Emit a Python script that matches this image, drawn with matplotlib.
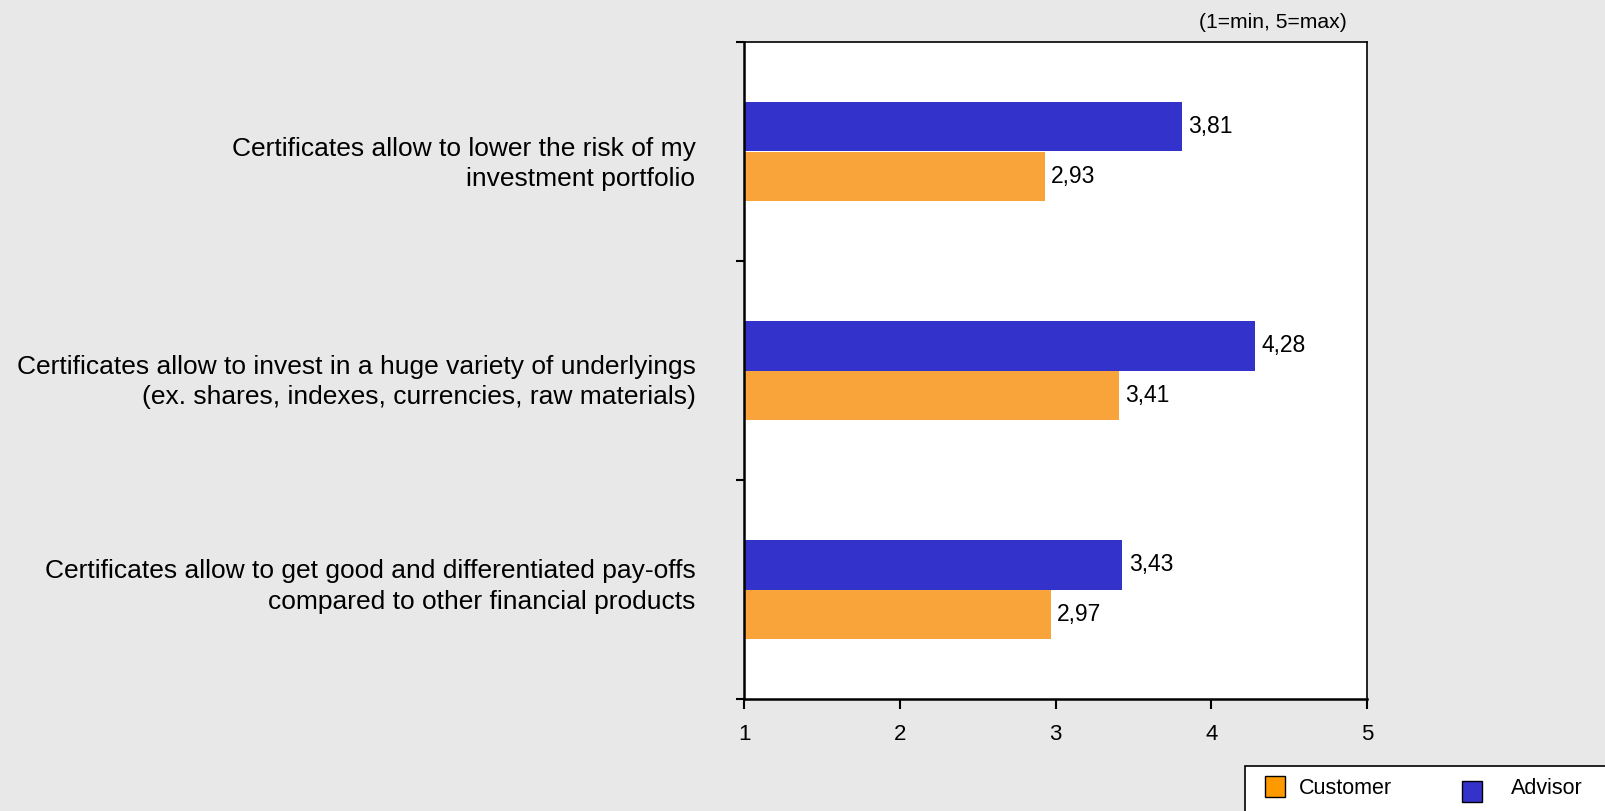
import matplotlib.pyplot as plt
from matplotlib.patches import Rectangle

# -------------------------
# DATA
# -------------------------
statements = [
    "Certificates allow to lower the risk of my\ninvestment portfolio",
    "Certificates allow to invest in a huge variety of underlyings\n(ex. shares, indexes, currencies, raw materials)",
    "Certificates allow to get good and differentiated pay-offs\ncompared to other financial products",
]
customer = [2.93, 3.41, 2.97]
advisor = [3.81, 4.28, 3.43]
series_names = ["Customer", "Advisor"]
x_ticks = [1, 2, 3, 4, 5]

# small vertical nudge of each category label (in category units)
label_shift = [0.031, 0.027, -0.039]

BLUE = "#3333cc"
ORANGE = "#f9a33b"
BG = "#e8e8e8"

plt.rcParams["font.family"] = ["Liberation Sans", "DejaVu Sans"]

# -------------------------
# PLOT
# -------------------------
W, H = 1605, 811
fig = plt.figure(figsize=(W / 100, H / 100), dpi=100, facecolor=BG)
ax = fig.add_axes([744 / W, 112 / H, 623 / W, 657 / H])
ax.set_facecolor("white")

bar_h = 0.224
pos = list(range(len(statements)))
adv_pos = [p - bar_h / 2 for p in pos]
cus_pos = [p + bar_h / 2 for p in pos]

ax.barh(adv_pos, advisor, height=bar_h, color=BLUE, zorder=2)
ax.barh(cus_pos, customer, height=bar_h, color=ORANGE, zorder=2)

def fmt(v):
    return f"{v:.2f}".replace(".", ",")

for y, v in zip(adv_pos, advisor):
    ax.text(v + 0.04, y, fmt(v), va="center", ha="left", fontsize=16.5)
for y, v in zip(cus_pos, customer):
    ax.text(v + 0.04, y, fmt(v), va="center", ha="left", fontsize=16.5)

ax.set_xlim(1, 5)
ax.set_ylim(len(statements) - 0.5, -0.5)
ax.set_xticks(x_ticks)
ax.set_xticklabels([str(t) for t in x_ticks], fontsize=16)

# category labels on major ticks, tick marks on category boundaries
ax.set_yticks([p + s for p, s in zip(pos, label_shift)])
ax.set_yticklabels(statements, fontsize=19, linespacing=1.32)
ax.set_yticks([p - 0.5 for p in range(len(statements) + 1)], minor=True)
ax.tick_params(axis="y", which="major", length=0, pad=35)
ax.tick_params(axis="y", which="minor", length=6, width=1.5, direction="out")
ax.tick_params(axis="x", length=7, width=1.5, direction="out", pad=11)

for side in ["left", "bottom"]:
    ax.spines[side].set_linewidth(1.8)
for side in ["top", "right"]:
    ax.spines[side].set_linewidth(1.2)

fig.text(1347 / W, 1 - 23 / H, "(1=min, 5=max)", ha="right", va="center", fontsize=15.2)

# legend box at the bottom right
fig.patches.append(Rectangle((1245 / W, -0.05), 0.3, (H - 766) / H + 0.05,
                             transform=fig.transFigure, facecolor="white",
                             edgecolor="black", lw=1.2))
fig.patches.append(Rectangle((1265 / W, 1 - 797 / H), 20 / W, 21 / H,
                             transform=fig.transFigure, facecolor="#ff9900",
                             edgecolor="black", lw=1))
fig.patches.append(Rectangle((1462 / W, 1 - 802 / H), 20 / W, 21 / H,
                             transform=fig.transFigure, facecolor=BLUE,
                             edgecolor="black", lw=1))
fig.text(1299 / W, 1 - 789 / H, series_names[0], ha="left", va="center", fontsize=15.5)
fig.text(1511 / W, 1 - 789 / H, series_names[1], ha="left", va="center", fontsize=15.5)

fig.savefig("out.png", dpi=100, facecolor=BG)
